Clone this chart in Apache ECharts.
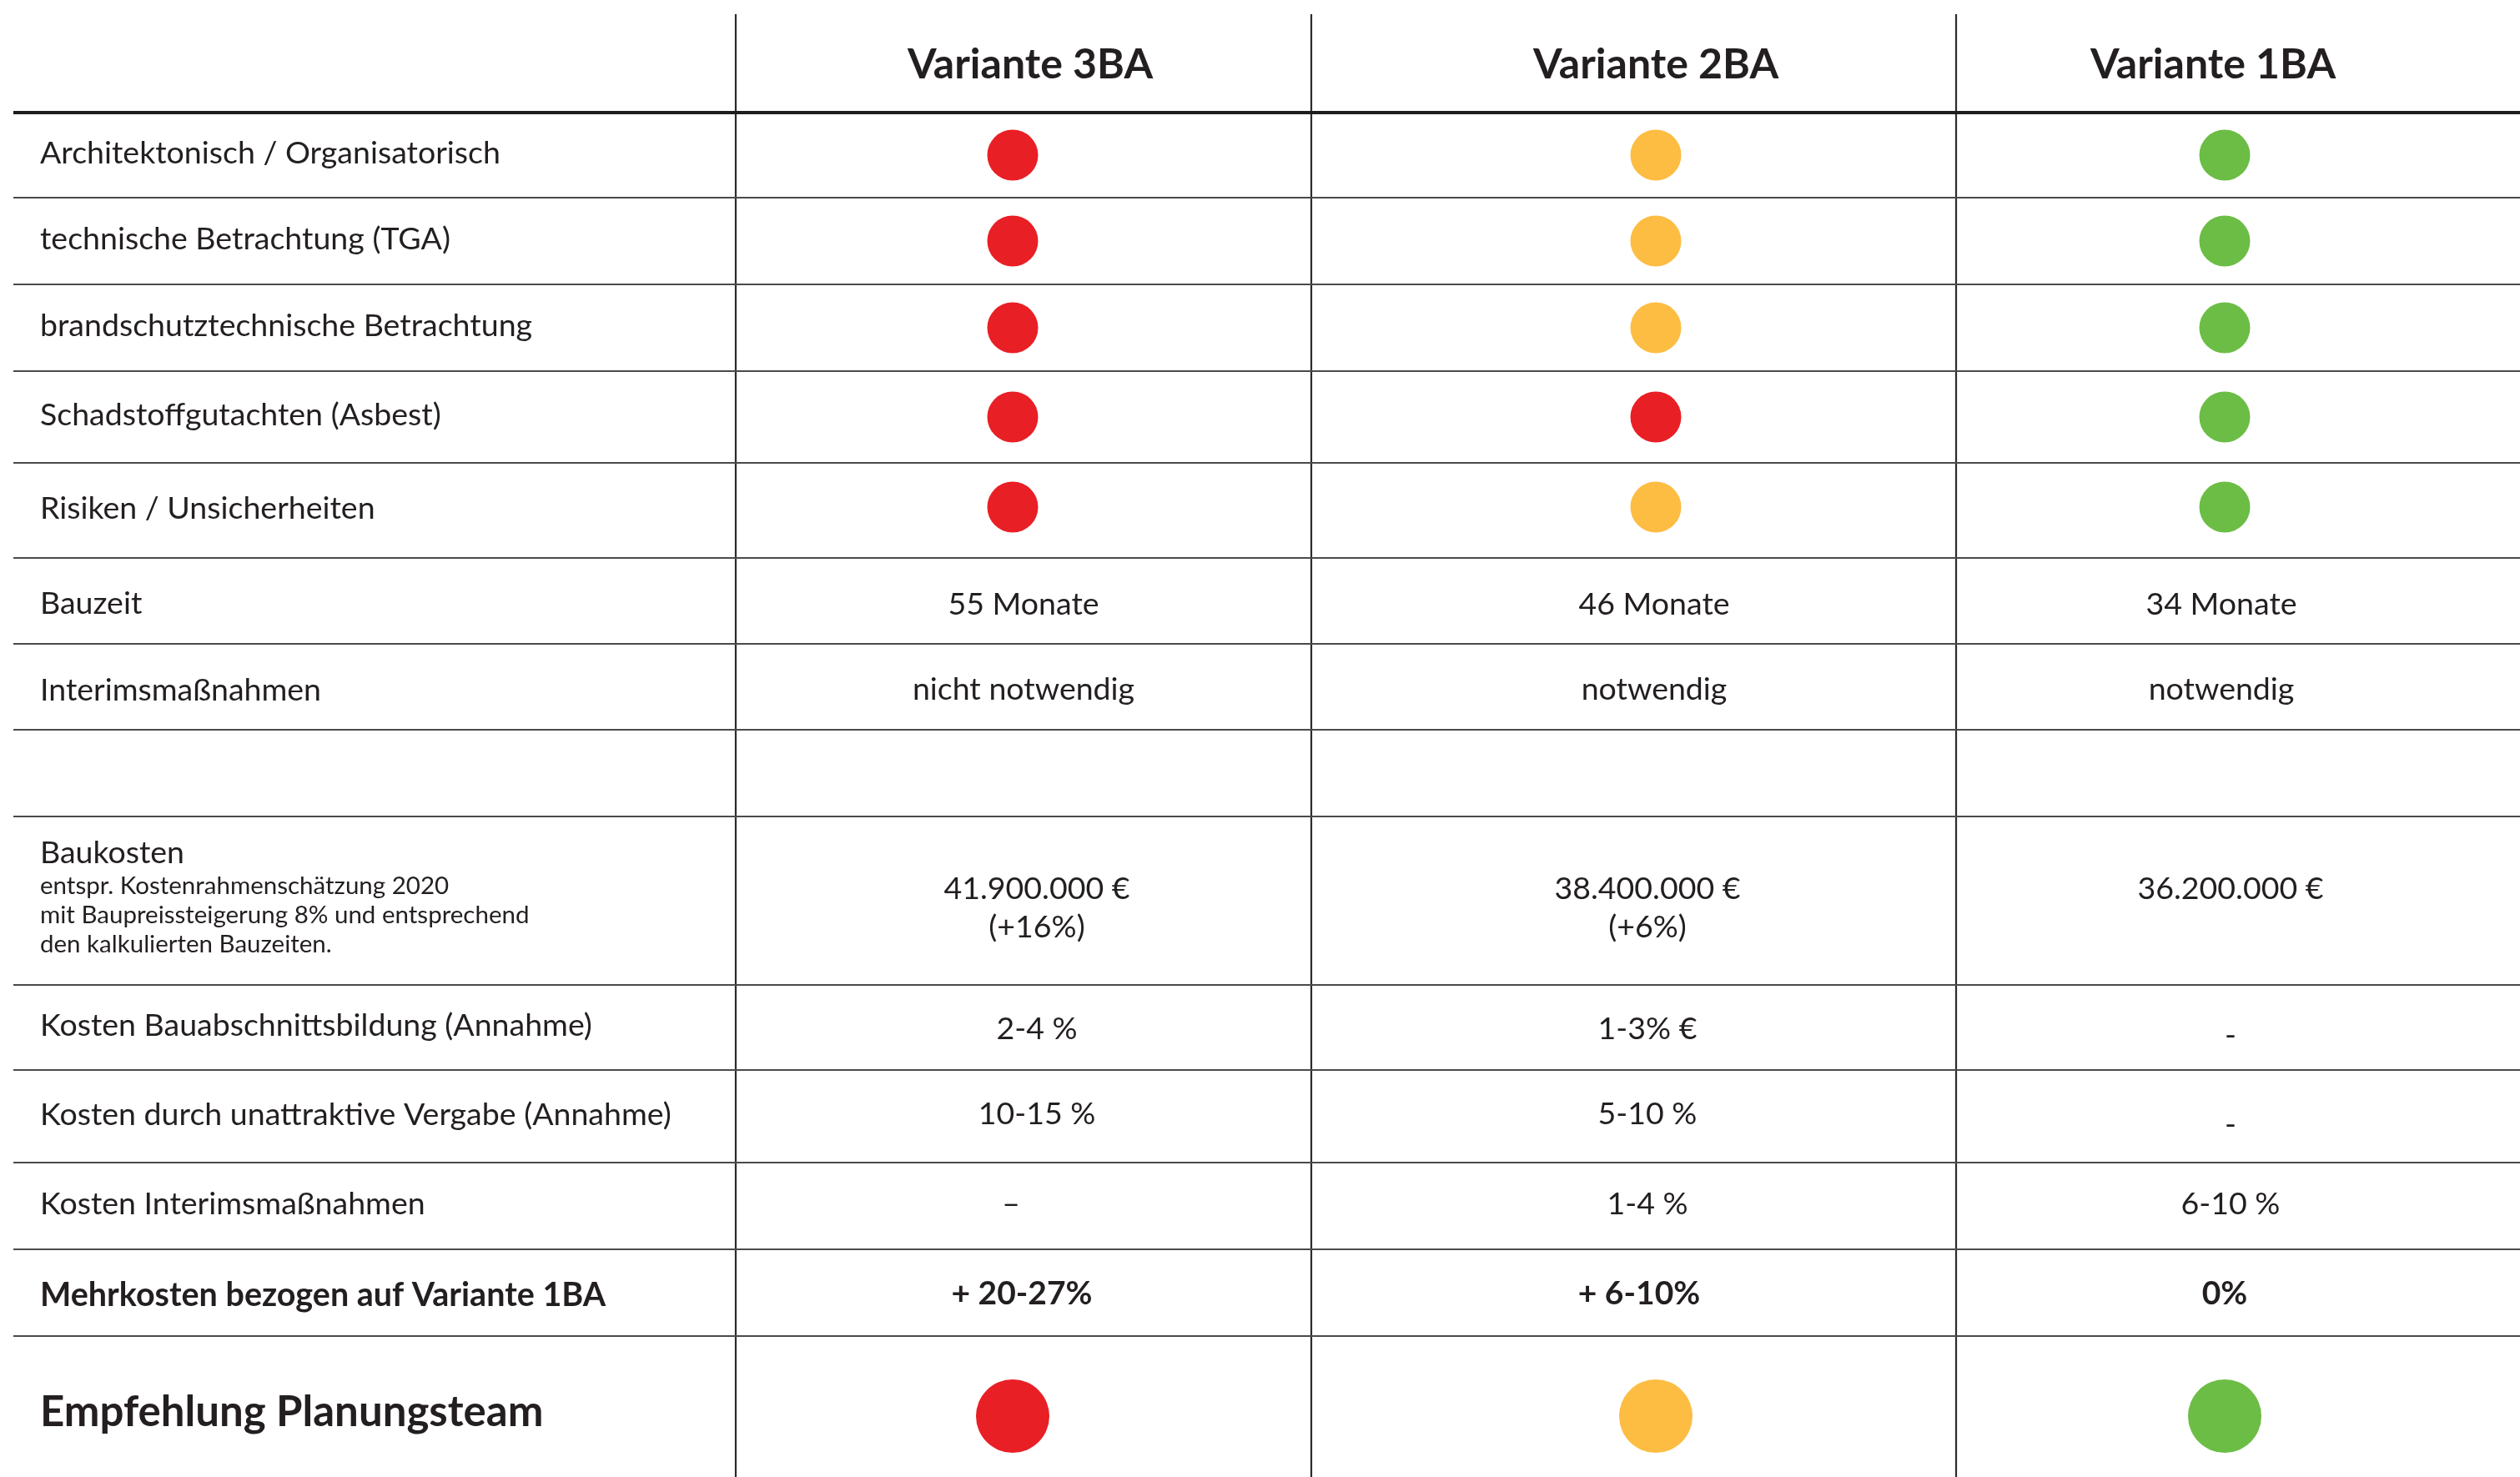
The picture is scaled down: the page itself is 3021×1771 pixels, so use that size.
<!DOCTYPE html>
<html><head><meta charset="utf-8">
<script src="https://cdn.jsdelivr.net/npm/echarts@6/dist/echarts.min.js"></script>
<style>html,body{margin:0;padding:0;background:#fff}#c{width:3021px;height:1771px}</style>
</head><body><div id="c"></div>
<script>
// ---------- DATA ----------
const variants = ['Variante 3BA', 'Variante 2BA', 'Variante 1BA'];
const criteria = ['Architektonisch / Organisatorisch', 'technische Betrachtung (TGA)', 'brandschutztechnische Betrachtung', 'Schadstoffgutachten (Asbest)', 'Risiken / Unsicherheiten'];
const rating3BA = ['rot', 'rot', 'rot', 'rot', 'rot'];
const rating2BA = ['gelb', 'gelb', 'gelb', 'rot', 'gelb'];
const rating1BA = ['grün', 'grün', 'grün', 'grün', 'grün'];
const bauzeit = ['55 Monate', '46 Monate', '34 Monate'];
const interimsmassnahmen = ['nicht notwendig', 'notwendig', 'notwendig'];
const baukostenLabel = 'Baukosten';
const baukostenNote = ['entspr. Kostenrahmenschätzung 2020', 'mit Baupreissteigerung 8% und entsprechend', 'den kalkulierten Bauzeiten.'];
const baukosten = ['41.900.000 €', '38.400.000 €', '36.200.000 €'];
const baukostenDelta = ['(+16%)', '(+6%)', ''];
const kostenBauabschnitt = ['2-4 %', '1-3% €', '-'];
const kostenVergabe = ['10-15 %', '5-10 %', '-'];
const kostenInterims = ['-', '1-4 %', '6-10 %'];
const mehrkosten = ['+ 20-27%', '+ 6-10%', '0%'];
const empfehlung = ['rot', 'gelb', 'grün'];
const rowLabels = ['Bauzeit', 'Interimsmaßnahmen', 'Kosten Bauabschnittsbildung (Annahme)', 'Kosten durch unattraktive Vergabe (Annahme)', 'Kosten Interimsmaßnahmen', 'Mehrkosten bezogen auf Variante 1BA', 'Empfehlung Planungsteam'];

// ---------- LAYOUT ----------
const W = 3021, H = 1771;
const vLines = [882, 1572, 2345];
const vTop = 17;
const hLeft = 16;
const headerLine = 135;
const hLines = [135, 237, 341, 445, 555, 669, 772, 875, 979, 1181, 1283, 1394, 1498, 1602];
const rowBottomLast = 1790;
const dotX = [1214, 1985, 2667];
const headerX = [1235, 1985, 2653];
const headerY = 78;
const textXTop = [1227, 1983, 2663];
const textXCost = [1243, 1975, 2674];
const textXBold = [1225, 1965, 2667];
const labelX = 48;
const colors = { 'rot': '#E91F26', 'gelb': '#FDBD43', 'grün': '#6CBD45' };
const ink = '#231F20';
const FONT = 'Lato, "Open Sans", sans-serif';
const BODY = 37.5;

function rowTop(i) { return hLines[i]; }
function rowBot(i) { return i + 1 < hLines.length ? hLines[i + 1] : rowBottomLast; }
function rowMid(i) { return (rowTop(i) + rowBot(i)) / 2; }

// ---------- BUILD ----------
const lineItems = [];
vLines.forEach(x => lineItems.push({ x1: x, y1: vTop, x2: x, y2: H, w: 2.2, c: '#2b2b2b' }));
hLines.forEach(y => lineItems.push({ x1: hLeft, y1: y, x2: W, y2: y, w: y === headerLine ? 4 : 2, c: y === headerLine ? '#1d1d1d' : '#4a4a4a' }));

const dots = [];
const ratings = [rating3BA, rating2BA, rating1BA];
criteria.forEach((c, r) => {
  ratings.forEach((arr, k) => {
    dots.push({ value: [dotX[k], rowMid(r) - (r === 4 ? 4 : 0)], symbolSize: 61, itemStyle: { color: colors[arr[r]], opacity: 1 } });
  });
});
empfehlung.forEach((e, k) => {
  dots.push({ value: [dotX[k], 1698], symbolSize: 88, itemStyle: { color: colors[e], opacity: 1 } });
});

const texts = [];
function T(x, y, text, size, weight, align) {
  texts.push({ x: x, y: y, text: text, size: size, weight: weight || 'normal', align: align || 'left' });
}
variants.forEach((v, k) => T(headerX[k], headerY, v, 50, 'bold', 'center'));
criteria.forEach((c, r) => T(labelX, rowMid(r) - 2, c, BODY));
// Bauzeit (row 5), Interims (row 6)
T(labelX, rowMid(5) + 3, rowLabels[0], BODY);
bauzeit.forEach((v, k) => T(textXTop[k], rowMid(5) + 4, v, BODY, 'normal', 'center'));
T(labelX, rowMid(6) + 4, rowLabels[1], BODY);
interimsmassnahmen.forEach((v, k) => T(textXTop[k], rowMid(6) + 3, v, BODY, 'normal', 'center'));
// Baukosten (row 8)
T(labelX, 1023, baukostenLabel, BODY);
baukostenNote.forEach((n, i) => T(labelX, 1062 + i * 35, n, 29.5));
baukosten.forEach((v, k) => T(textXCost[k], 1066, v, BODY, 'normal', 'center'));
baukostenDelta.forEach((v, k) => { if (v) T(textXCost[k], 1112, v, BODY, 'normal', 'center'); });
// Kosten rows 9,10,11
T(labelX, rowMid(9) - 2, rowLabels[2], BODY);
kostenBauabschnitt.forEach((v, k) => T(textXCost[k], rowMid(9) + (v === '-' ? 10 : 2), v, BODY, 'normal', 'center'));
T(labelX, rowMid(10) - 2, rowLabels[3], BODY);
kostenVergabe.forEach((v, k) => T(textXCost[k], rowMid(10) + (v === '-' ? 10 : -3), v, BODY, 'normal', 'center'));
T(labelX, rowMid(11) - 2, rowLabels[4], BODY);
kostenInterims.forEach((v, k) => T(v === '-' ? 1212 : textXCost[k], rowMid(11) - 2, v === '-' ? '–' : v, BODY, 'normal', 'center'));
// Mehrkosten row 12
T(labelX, rowMid(12) + 3, rowLabels[5], 39.5, 'bold');
mehrkosten.forEach((v, k) => T(textXBold[k], rowMid(12) + 1, v, 39, 'bold', 'center'));
// Empfehlung row 13
T(labelX, 1694, rowLabels[6], 51, 'bold');

const chart = echarts.init(document.getElementById('c'), null, { renderer: 'canvas' });
chart.setOption({
  animation: false,
  backgroundColor: '#ffffff',
  grid: { left: 0, right: 0, top: 0, bottom: 0 },
  xAxis: { type: 'value', min: 0, max: W, show: false },
  yAxis: { type: 'value', min: 0, max: H, inverse: true, show: false },
  series: [
    {
      type: 'custom', silent: true, z: 1,
      data: lineItems.map(l => [l.x1, l.y1, l.x2, l.y2]),
      renderItem: function (params, api) {
        const l = lineItems[params.dataIndex];
        const p1 = api.coord([l.x1, l.y1]);
        const p2 = api.coord([l.x2, l.y2]);
        return { type: 'line', shape: { x1: p1[0], y1: p1[1], x2: p2[0], y2: p2[1] }, style: { stroke: l.c, lineWidth: l.w } };
      }
    },
    {
      type: 'scatter', z: 2, symbol: 'circle', silent: true,
      itemStyle: { opacity: 1 },
      data: dots
    },
    {
      type: 'custom', silent: true, z: 3,
      data: texts.map(t => [t.x, t.y]),
      renderItem: function (params, api) {
        const t = texts[params.dataIndex];
        const p = api.coord([t.x, t.y]);
        return {
          type: 'text', x: p[0], y: p[1],
          style: { text: t.text, fill: ink, fontSize: t.size, fontWeight: t.weight, fontFamily: FONT, align: t.align, verticalAlign: 'middle' }
        };
      }
    }
  ]
});
</script></body></html>
